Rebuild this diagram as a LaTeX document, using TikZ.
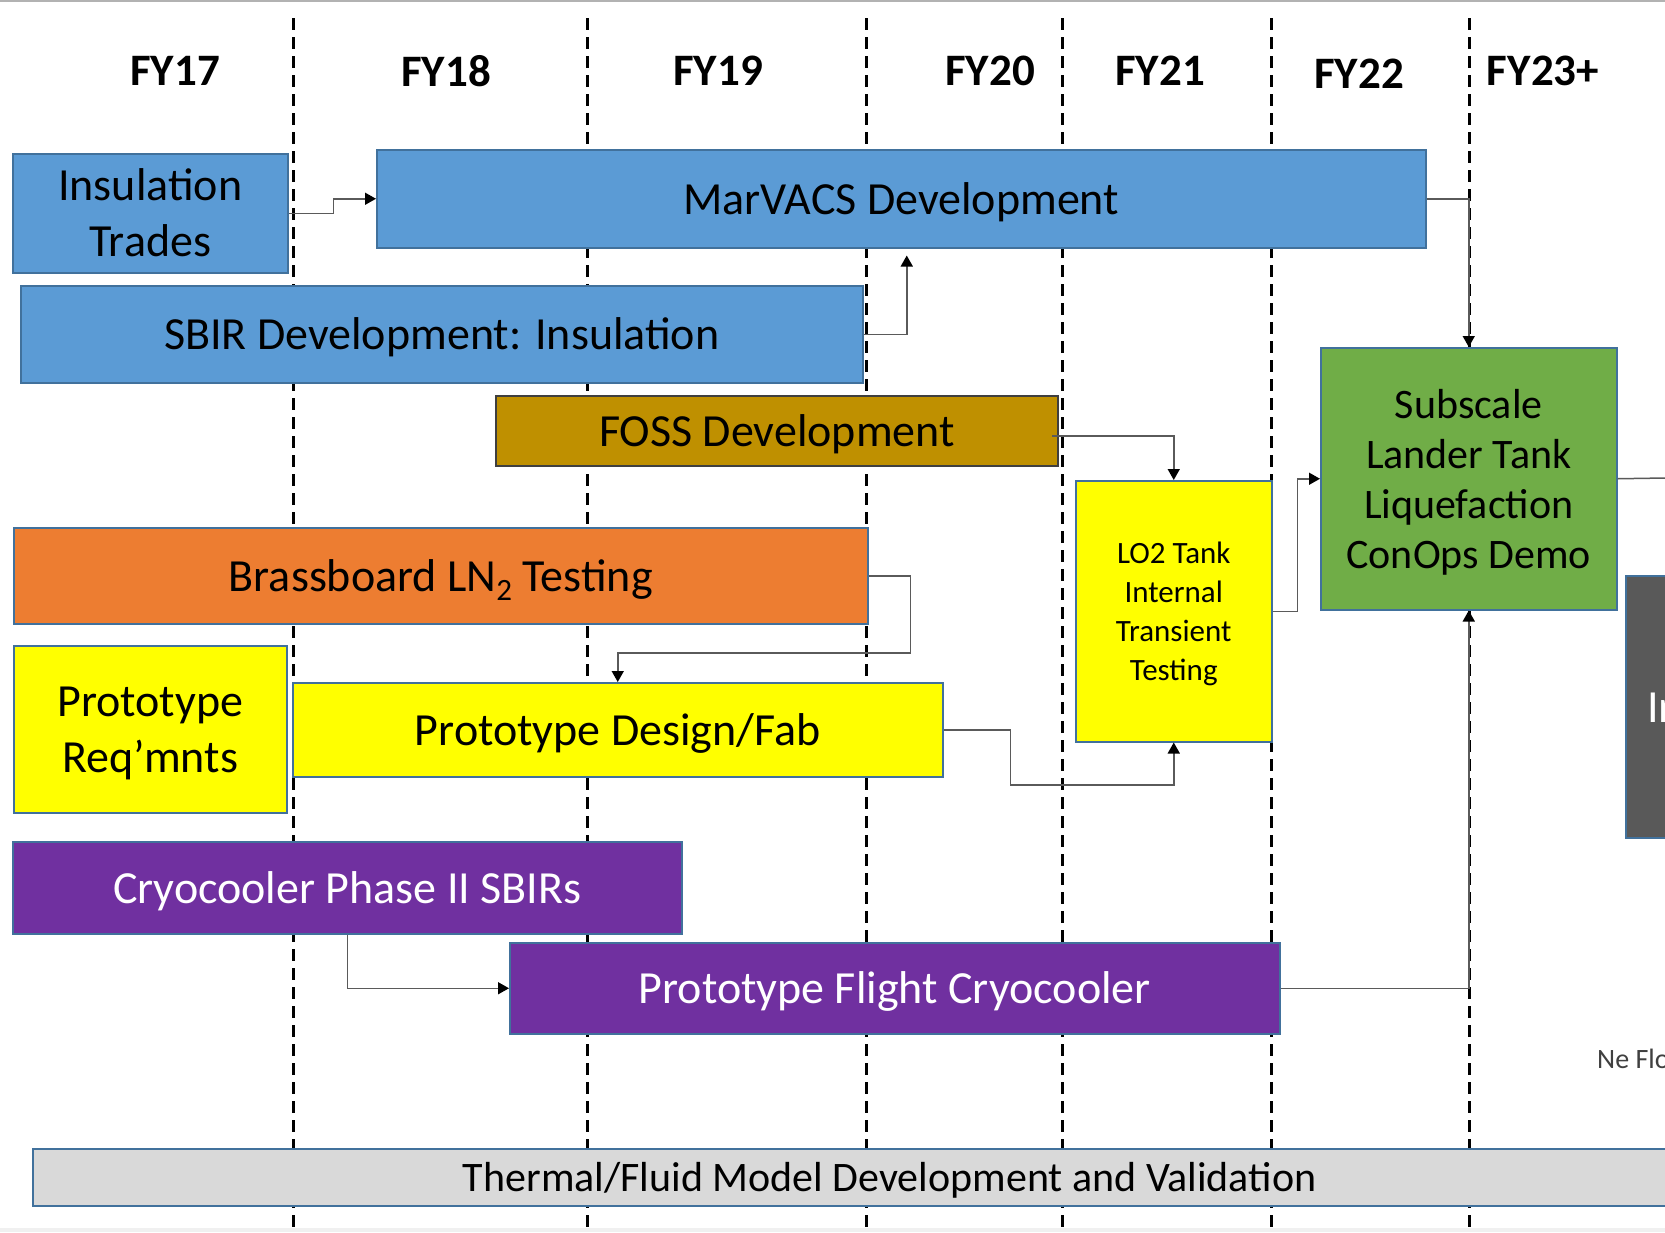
\documentclass[tikz,border=0pt]{standalone}
\usepackage{fontspec}
\setmainfont{Carlito}
\usetikzlibrary{arrows.meta}
\definecolor{bboxblue}{HTML}{5B9BD5}
\definecolor{edgeblue}{HTML}{41719C}
\definecolor{fossgold}{HTML}{BF9000}
\definecolor{fossedge}{HTML}{3F3F3F}
\definecolor{orng}{HTML}{ED7D31}
\definecolor{ylw}{HTML}{FFFF00}
\definecolor{grn}{HTML}{70AD47}
\definecolor{prpl}{HTML}{7030A0}
\definecolor{lgray}{HTML}{D9D9D9}
\definecolor{dgray}{HTML}{595959}
\definecolor{conngray}{HTML}{5A5A5A}
\definecolor{notegray}{HTML}{404040}
\newcommand\tophold{\rule{0pt}{0.952em}}
\newcommand\bothold{\rule[-0.269em]{0pt}{0.269em}}
\begin{document}
\begin{tikzpicture}[x=1pt,y=-1pt,
  taskbox/.style={draw=edgeblue, line width=1.5pt, inner sep=0pt, anchor=north west,
    align=center, font=\fontsize{46}{56}\selectfont},
  yearlbl/.style={font=\bfseries\fontsize{45}{45}\selectfont, inner sep=0pt},
  fyline/.style={line width=3pt, dash pattern=on 12pt off 7pt},
  conn/.style={draw=conngray, line width=1.5pt, -{Triangle[length=11pt,width=12pt,color=black]}},
  plainconn/.style={draw=conngray, line width=1.5pt}
]
\useasboundingbox (0,0) rectangle (1665,1232);
\clip (0,0) rectangle (1665,1232);
\fill[white] (0,0) rectangle (1665,1232);
\draw[gray!60, line width=2pt] (0,1) -- (1665,1);
\fill[gray!12] (0,1228) rectangle (1665,1232);

% fiscal year separators
\foreach \xx in {293,587,866.5,1062,1271,1469} {
  \draw[fyline] (\xx,18) -- (\xx,1232);
}

% year labels
\node[yearlbl] (fy17) at (175,71) {FY17};
\node[yearlbl] (fy18) at (446,71) {FY18};
\node[yearlbl] (fy19) at (718,71) {FY19};
\node[yearlbl] (fy20) at (990,71) {FY20};
\node[yearlbl] (fy21) at (1160,71) {FY21};
\node[yearlbl] (fy22) at (1359,74) {FY22};
\node[yearlbl] (fy23) at (1543,71) {FY23+};

% task boxes
\node[taskbox, fill=bboxblue, minimum width=275pt, minimum height=119pt] (it) at (12,153) {\tophold Insulation\\Trades\bothold};
\node[taskbox, fill=bboxblue, minimum width=1049pt, minimum height=98pt] (mv) at (376,149) {\tophold MarVACS Development\bothold};
\node[taskbox, fill=bboxblue, minimum width=842pt, minimum height=97pt] (sbir) at (20,285) {\tophold SBIR Development: Insulation\bothold};
\node[taskbox, fill=fossgold, draw=fossedge, line width=2pt, minimum width=562pt, minimum height=70pt] (foss) at (495,395) {\tophold FOSS Development\bothold};
\node[taskbox, fill=orng, minimum width=854pt, minimum height=96pt] (bb) at (13,527) {\tophold Brassboard LN\raisebox{-9pt}{\fontsize{31}{31}\selectfont 2} Testing\bothold};
\node[taskbox, fill=ylw, minimum width=273pt, minimum height=167pt] (preq) at (13,645) {\tophold Prototype\\Req’mnts\bothold};
\node[taskbox, fill=ylw, minimum width=650pt, minimum height=94pt] (pd) at (292,682) {\tophold Prototype Design/Fab\bothold};
\node[taskbox, fill=ylw, minimum width=196pt, minimum height=261pt, font=\fontsize{31}{39}\selectfont] (lo2) at (1075,480) {\tophold LO2 Tank\\Internal\\Transient\\Testing\bothold};
\node[taskbox, fill=grn, minimum width=296pt, minimum height=262pt, font=\fontsize{42}{50}\selectfont] (green) at (1320,347) {\tophold Subscale\\Lander Tank\\Liquefaction\\ConOps Demo\bothold};
\node[taskbox, fill=prpl, text=white, minimum width=669pt, minimum height=92pt] (cryo) at (12,841) {\tophold Cryocooler Phase II SBIRs\bothold};
\node[taskbox, fill=prpl, text=white, minimum width=770pt, minimum height=91pt] (pf) at (509,942) {\tophold Prototype Flight Cryocooler\bothold};
\node[taskbox, fill=lgray, minimum width=1714pt, minimum height=57pt, font=\fontsize{42}{50}\selectfont] (thermal) at (32,1148) {\tophold Thermal/Fluid Model Development and Validation\bothold};
\node[taskbox, fill=dgray, minimum width=200pt, minimum height=262pt] (dk) at (1625,575) {};
\node[anchor=west, inner sep=0pt, text=white, font=\fontsize{46}{56}\selectfont] (dktext) at (1647,708) {In};
\node[anchor=base west, inner sep=0pt, text=notegray, font=\fontsize{28}{34}\selectfont] (neflo) at (1597,1068) {Ne Flo};
\coordinate (gout) at (1665,478);

% connectors
\draw[conn] (it.east) -- ++(45,0) |- (mv.west);
\draw[conn, shorten >=7pt] (sbir.east) -| ([xshift=5.5pt]mv.south);
\draw[conn] (mv.east) -| (green.north);
\draw[conn] ([xshift=-7pt,yshift=-5pt]foss.east) -| (lo2.north);
\draw[conn] (bb.east) -- ++(42,0) -- ++(0,77) -| (pd.north);
\draw[conn] (pd.east) -- ++(67,0) -- ++(0,55) -| (lo2.south);
\draw[conn] (lo2.east) -- ++(25,0) |- (green.west);
\draw[conn] (cryo.south) |- (pf.west);
\draw[conn] (pf.east) -| (green.south);
\draw[plainconn] (green.east) -- (gout);
\end{tikzpicture}
\end{document}
